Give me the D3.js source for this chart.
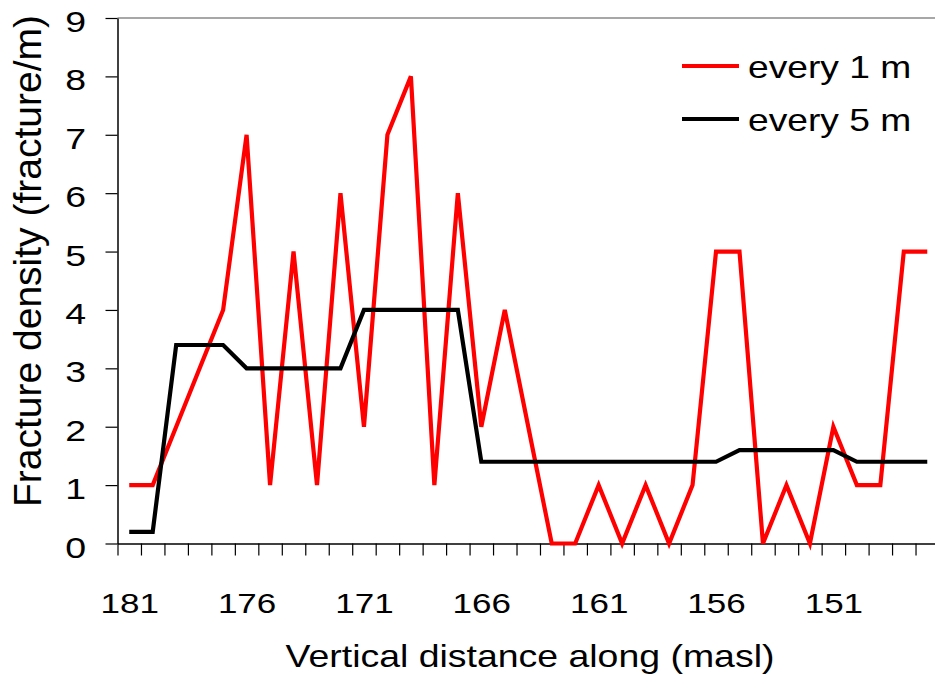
<!DOCTYPE html>
<html>
  <head>
    <meta charset="utf-8">
    <title>fracture density</title>
    <script type="text/javascript" src="https://d3js.org/d3.v7.min.js"></script>
    <style>
      body { margin:0; background:#fff; }
      svg { display:block; overflow:hidden; }
      text { font-family: "Liberation Sans", Arial, sans-serif; fill:#000; }
    </style>
  </head>
  <body>
    <svg width="935" height="675"></svg>
    <script>
    // elevation categories (masl), read from 181 down to 147
    var elevations = d3.range(181, 146, -1);
    var labelValues = [181, 176, 171, 166, 161, 156, 151];
    var yTicks = [0, 1, 2, 3, 4, 5, 6, 7, 8, 9];

    // fractures counted every 1 m
    var every1m = [1, 1, 2, 3, 4, 7, 1, 5, 1, 6, 2, 7, 8, 1, 6, 2, 4, 2, 0, 0,
                   1, 0, 1, 0, 1, 5, 5, 0, 1, 0, 2, 1, 1, 5, 5];
    // averaged every 5 m
    var every5m = [0.2, 0.2, 3.4, 3.4, 3.4, 3, 3, 3, 3, 3, 4, 4, 4, 4, 4,
                   1.4, 1.4, 1.4, 1.4, 1.4, 1.4, 1.4, 1.4, 1.4, 1.4, 1.4,
                   1.6, 1.6, 1.6, 1.6, 1.6, 1.4, 1.4, 1.4, 1.4];

    var seriesNames = ["every 1 m", "every 5 m"];
    var seriesColors = ["#ff0000", "#000000"];

    var svg = d3.select("svg");
    var plotL = 117.5, plotT = 18, plotB = 543.5, plotR = 939;
    var sx = 1.25; // the source image is stretched sideways

    var x = d3.scaleLinear()
      .domain([181.5, 146.5])
      .range([plotL, plotR]);
    var y = d3.scaleLinear()
      .domain([0, 9])
      .range([plotB, plotT]);

    // plot frame (top edge visible)
    svg.append("line")
      .attr("x1", plotL).attr("x2", plotR)
      .attr("y1", plotT).attr("y2", plotT)
      .attr("stroke", "#8a8a8a")
      .attr("stroke-width", 1.5);

    // x axis: minor ticks at category edges
    var xEdges = d3.range(181.5, 146, -1);
    var gx = svg.append("g")
      .attr("transform", "translate(0," + plotB + ")")
      .call(d3.axisBottom(x).tickValues(xEdges).tickFormat("").tickSize(12).tickSizeOuter(0));
    gx.select(".domain").attr("stroke", "#000").attr("stroke-width", 1.5);
    gx.selectAll(".tick line").attr("stroke", "#000").attr("stroke-width", 1.2);

    // x labels every 5 m
    var gxl = svg.append("g")
      .attr("transform", "translate(0," + plotB + ")")
      .call(d3.axisBottom(x).tickValues(labelValues).tickFormat(d3.format("d")).tickSize(0));
    gxl.select(".domain").remove();
    gxl.selectAll("text")
      .attr("y", 0).attr("dy", null)
      .attr("transform", "translate(0,69.5) scale(" + sx + ",1)")
      .style("font-size", "28px");

    // y axis
    var gy = svg.append("g")
      .attr("transform", "translate(" + plotL + ",0)")
      .call(d3.axisLeft(y).tickValues(yTicks).tickSize(12).tickSizeOuter(0));
    gy.select(".domain").attr("stroke", "#000").attr("stroke-width", 1.5);
    gy.selectAll(".tick line").attr("stroke", "#000").attr("stroke-width", 1.2);
    gy.selectAll("text")
      .attr("x", 0).attr("dy", null).attr("y", 0)
      .attr("transform", "translate(-31.5,13.5) scale(" + sx + ",1)")
      .style("font-size", "30px");
    svg.selectAll(".tick text").style("font-family", "'Liberation Sans', Arial, sans-serif");

    // lines
    var line = d3.line()
      .x(function(d){ return x(d.e); })
      .y(function(d){ return y(d.v); });

    [every1m, every5m].forEach(function(vals, k){
      var pts = elevations.map(function(e, i){ return {e:e, v:vals[i]}; });
      svg.append("path")
        .datum(pts)
        .attr("d", line)
        .attr("fill", "none")
        .attr("stroke", seriesColors[k])
        .attr("stroke-width", 4.2)
        .attr("stroke-linejoin", "miter");
    });

    // legend
    var legend = svg.append("g");
    seriesNames.forEach(function(name, k){
      var ly = 66 + k * 53;
      legend.append("line")
        .attr("x1", 682).attr("x2", 739)
        .attr("y1", ly).attr("y2", ly)
        .attr("stroke", seriesColors[k])
        .attr("stroke-width", 4.2);
      legend.append("text")
        .attr("transform", "translate(748," + (ly + 12) + ") scale(1.2,1)")
        .style("font-size", "31px")
        .text(name);
    });

    // axis titles
    svg.append("text")
      .attr("transform", "translate(530,667) scale(1.17,1)")
      .attr("text-anchor", "middle")
      .style("font-size", "32px")
      .text("Vertical distance along (masl)");

    svg.append("text")
      .attr("transform", "translate(41,261) rotate(-90)")
      .attr("text-anchor", "middle")
      .style("font-size", "39px")
      .text("Fracture density (fracture/m)");
    </script>
  </body>
</html>
